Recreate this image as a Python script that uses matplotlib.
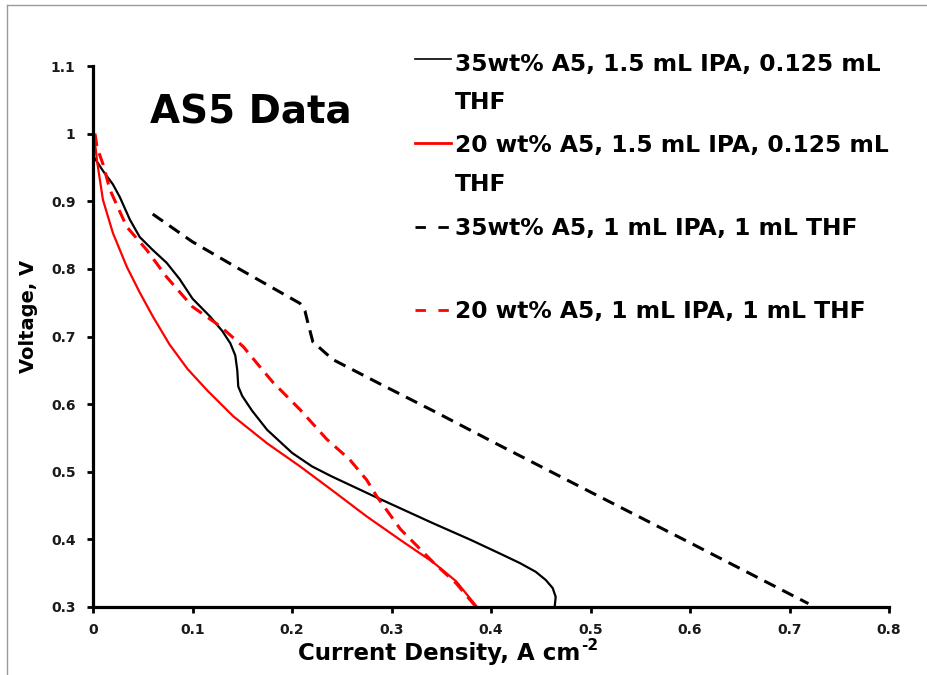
import matplotlib
matplotlib.use("Agg")
import matplotlib.pyplot as plt
from matplotlib.lines import Line2D

# ---- data ----
legend_lines = [["35wt% A5, 1.5 mL IPA, 0.125 mL", "THF"],
                ["20 wt% A5, 1.5 mL IPA, 0.125 mL", "THF"],
                ["35wt% A5, 1 mL IPA, 1 mL THF"],
                ["20 wt% A5, 1 mL IPA, 1 mL THF"]]

black_solid_x = [0.002, 0.010, 0.020, 0.027, 0.037, 0.047, 0.060, 0.074, 0.087, 0.100,
                 0.118, 0.130, 0.138, 0.143, 0.145, 0.146, 0.150, 0.160, 0.175, 0.200,
                 0.220, 0.240, 0.285, 0.340, 0.380, 0.409, 0.429, 0.445, 0.455, 0.462,
                 0.465, 0.464]
black_solid_y = [0.963, 0.945, 0.925, 0.906, 0.873, 0.847, 0.828, 0.809, 0.785, 0.756,
                 0.729, 0.708, 0.690, 0.672, 0.650, 0.626, 0.612, 0.590, 0.562, 0.528,
                 0.508, 0.493, 0.462, 0.425, 0.399, 0.379, 0.365, 0.352, 0.340, 0.328,
                 0.315, 0.300]

red_solid_x = [0.000, 0.001, 0.004, 0.010, 0.020, 0.034, 0.047, 0.060, 0.077, 0.095,
               0.115, 0.141, 0.175, 0.208, 0.240, 0.275, 0.310, 0.342, 0.365, 0.386]
red_solid_y = [1.035, 1.000, 0.960, 0.902, 0.853, 0.803, 0.765, 0.730, 0.688, 0.652,
               0.620, 0.582, 0.542, 0.508, 0.473, 0.434, 0.398, 0.366, 0.338, 0.300]

black_dash_x = [0.060, 0.100, 0.148, 0.208, 0.213, 0.216, 0.221, 0.241, 0.291, 0.342,
                0.406, 0.500, 0.600, 0.719]
black_dash_y = [0.881, 0.840, 0.799, 0.749, 0.738, 0.720, 0.692, 0.666, 0.628, 0.590,
                0.541, 0.470, 0.395, 0.305]

red_dash_x = [0.002, 0.004, 0.010, 0.017, 0.034, 0.054, 0.074, 0.100, 0.128, 0.151,
              0.165, 0.181, 0.208, 0.235, 0.258, 0.275, 0.285, 0.309, 0.342, 0.365,
              0.385]
red_dash_y = [1.000, 0.980, 0.955, 0.917, 0.862, 0.828, 0.788, 0.744, 0.715, 0.685,
              0.660, 0.632, 0.592, 0.548, 0.518, 0.488, 0.464, 0.415, 0.366, 0.335,
              0.300]

x_ticks = [0, 0.1, 0.2, 0.3, 0.4, 0.5, 0.6, 0.7, 0.8]
x_tick_labels = ["0", "0.1", "0.2", "0.3", "0.4", "0.5", "0.6", "0.7", "0.8"]
y_ticks = [0.3, 0.4, 0.5, 0.6, 0.7, 0.8, 0.9, 1.0, 1.1]
y_tick_labels = ["0.3", "0.4", "0.5", "0.6", "0.7", "0.8", "0.9", "1", "1.1"]

plt.rcParams['font.family'] = ['DejaVu Sans']
plt.rcParams['font.weight'] = 'bold'
plt.rcParams['lines.scale_dashes'] = False

# ---- figure ----
W, H = 927, 675
fig = plt.figure(figsize=(W / 100, H / 100), dpi=100)
ax = fig.add_axes([93 / W, 1 - 607 / H, (889 - 93) / W, (607 - 66) / H])

ax.plot(black_solid_x, black_solid_y, color='black', lw=1.6, solid_joinstyle='round')
ax.plot(red_solid_x, red_solid_y, color='#ff0000', lw=1.6, solid_joinstyle='round')
ax.plot(black_dash_x, black_dash_y, color='black', lw=2.2, dashes=(9, 5.5))
ax.plot(red_dash_x, red_dash_y, color='#ff0000', lw=2.2, dashes=(9, 5.5))

ax.set_xlim(0, 0.8)
ax.set_ylim(0.3, 1.1)
ax.set_xticks(x_ticks)
ax.set_xticklabels(x_tick_labels)
ax.set_yticks(y_ticks)
ax.set_yticklabels(y_tick_labels)
for s in ['top', 'right']:
    ax.spines[s].set_visible(False)
for s in ['left', 'bottom']:
    ax.spines[s].set_linewidth(2.3)
ax.tick_params(axis='both', direction='out', length=4.5, width=2, labelsize=10,
               colors='black')
ax.tick_params(axis='x', pad=7)
ax.tick_params(axis='y', pad=8)
for t in ax.get_xticklabels() + ax.get_yticklabels():
    t.set_fontweight('bold')
    t.set_color('#1a1a1a')

fig.text(28 / W, 1 - 316 / H, "Voltage, V", rotation=90, ha='center', va='center',
         fontsize=14, fontweight='bold')
xl = fig.text(298 / W, 1 - 660 / H, "Current Density, A cm", ha='left',
              va='baseline', fontsize=16.5, fontweight='bold')
fig.text(150 / W, 1 - 123 / H, "AS5 Data", ha='left', va='baseline', fontsize=28,
         fontweight='bold')

# superscript for the x label
fig.canvas.draw()
bb = xl.get_window_extent()
fig.text((bb.x1 + 1) / W, 1 - 650 / H, "-2", ha='left', va='baseline', fontsize=11,
         fontweight='bold')

# ---- manual legend ----
styles = [dict(color='black', lw=1.2), dict(color='#ff0000', lw=2.0),
          dict(color='black', lw=2.0, dashes=(7.5, 9)),
          dict(color='#ff0000', lw=2.0, dashes=(7.5, 9))]
handle_y = [59, 143, 227, 310]
baselines = [[71, 109], [152, 191], [235], [318]]
for lines, st, hy, bls in zip(legend_lines, styles, handle_y, baselines):
    yf = 1 - hy / H
    fig.add_artist(Line2D([415 / W, 451 / W], [yf, yf], transform=fig.transFigure, **st))
    for txt, bl in zip(lines, bls):
        fig.text(455 / W, 1 - bl / H, txt, ha='left', va='baseline', fontsize=16.8,
                 fontweight='bold')

# frame
fig.add_artist(Line2D([7 / W, 7 / W], [0, 1 - 5 / H], transform=fig.transFigure,
                      color='#9a9a9a', lw=1))
fig.add_artist(Line2D([7 / W, 1], [1 - 5 / H, 1 - 5 / H], transform=fig.transFigure,
                      color='#9a9a9a', lw=1))

fig.savefig("out.png", dpi=100)
